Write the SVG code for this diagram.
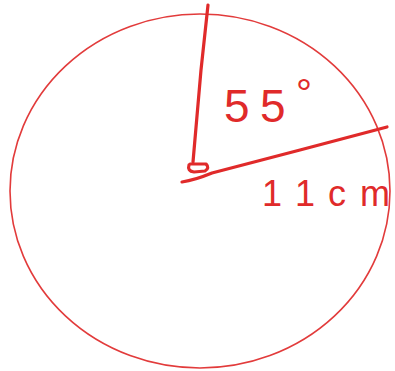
<svg xmlns="http://www.w3.org/2000/svg" width="395" height="371" viewBox="0 0 395 371">
<style>
.c{fill:none;stroke:#e23b3b;stroke-width:1.6}
.l{fill:none;stroke:#e02a2a;stroke-width:3.2;stroke-linecap:round;stroke-linejoin:round}
.t{fill:#e02a2a;font-family:"Liberation Sans",Arial,sans-serif}
</style>
<rect width="395" height="371" fill="#ffffff"/>
<g id="circle">
<ellipse class="c" cx="200" cy="191" rx="190" ry="177"/>
</g>
<g id="connectors">
<path class="l" d="M208 5 L201 70 L193 162"/>
<path class="l" d="M189 165 Q187 171 194 172 L205 171 Q210 168 206 164 L190 164"/>
<path class="l" d="M182 182 Q195 180 212 173 Q250 163 300 150 Q345 138 387 127"/>
</g>
<g id="label-angle">
<text class="t" x="224 260" y="122" font-size="46">55<tspan x="296" y="107" font-size="40">°</tspan></text>
</g>
<g id="label-radius">
<text class="t" x="262 295 328 360" y="206" font-size="36">11cm</text>
</g>
</svg>
